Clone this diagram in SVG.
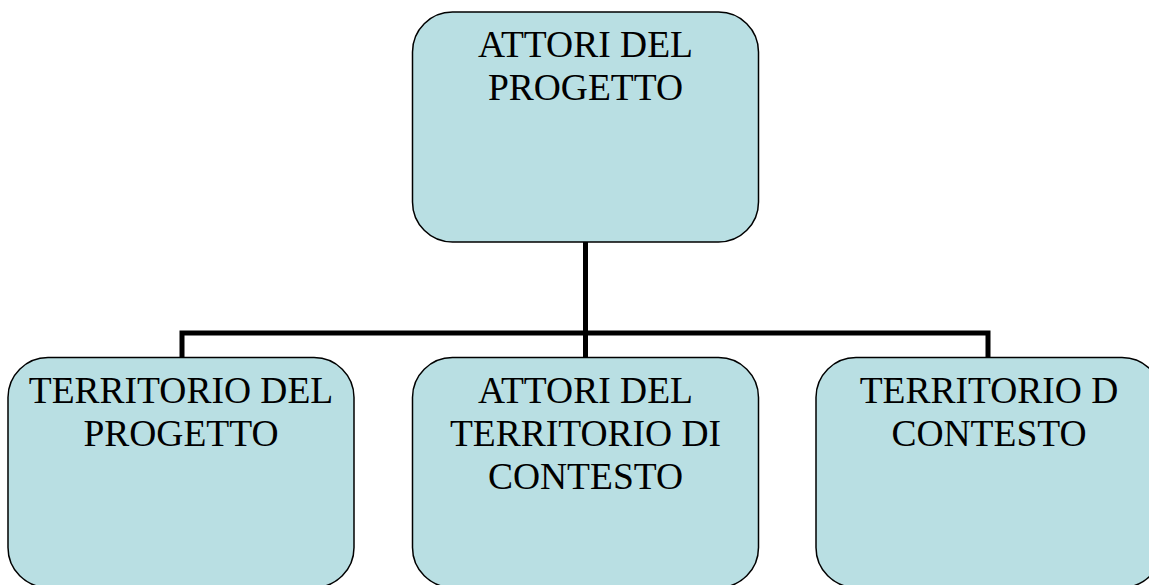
<svg xmlns="http://www.w3.org/2000/svg" width="1149" height="585" viewBox="0 0 1149 585">
<style>
.box{fill:#b9dfe3;stroke:#000;stroke-width:1.5}
.lbl{font-family:"Liberation Serif","Times New Roman",serif;font-size:37.5px;fill:#000;text-anchor:middle}
.conn{fill:none;stroke:#000;stroke-width:5;stroke-linejoin:miter}
</style>
<rect x="0" y="0" width="1149" height="585" fill="#fff"/>
<g id="connectors">
<path class="conn" d="M585.5,242 V333"/>
<path class="conn" d="M182,358 V333 H988 V358"/>
<path class="conn" d="M585.5,333 V358"/>
</g>
<g id="n-top">
<rect class="box" x="412.5" y="12" width="346" height="230" rx="40" ry="40"/>
<text class="lbl" x="585.5" y="57">ATTORI DEL</text>
<text class="lbl" x="585.5" y="100">PROGETTO</text>
</g>
<g id="n-left">
<rect class="box" x="8" y="357.5" width="346" height="230" rx="40" ry="40"/>
<text class="lbl" x="181" y="403">TERRITORIO DEL</text>
<text class="lbl" x="181" y="446">PROGETTO</text>
</g>
<g id="n-mid">
<rect class="box" x="412.5" y="357.5" width="346" height="230" rx="40" ry="40"/>
<text class="lbl" x="585.5" y="403">ATTORI DEL</text>
<text class="lbl" x="585.5" y="446">TERRITORIO DI</text>
<text class="lbl" x="585.5" y="489">CONTESTO</text>
</g>
<g id="n-right">
<rect class="box" x="816" y="357.5" width="346" height="230" rx="40" ry="40"/>
<text class="lbl" x="989" y="403">TERRITORIO D</text>
<text class="lbl" x="989" y="446">CONTESTO</text>
</g>
</svg>
